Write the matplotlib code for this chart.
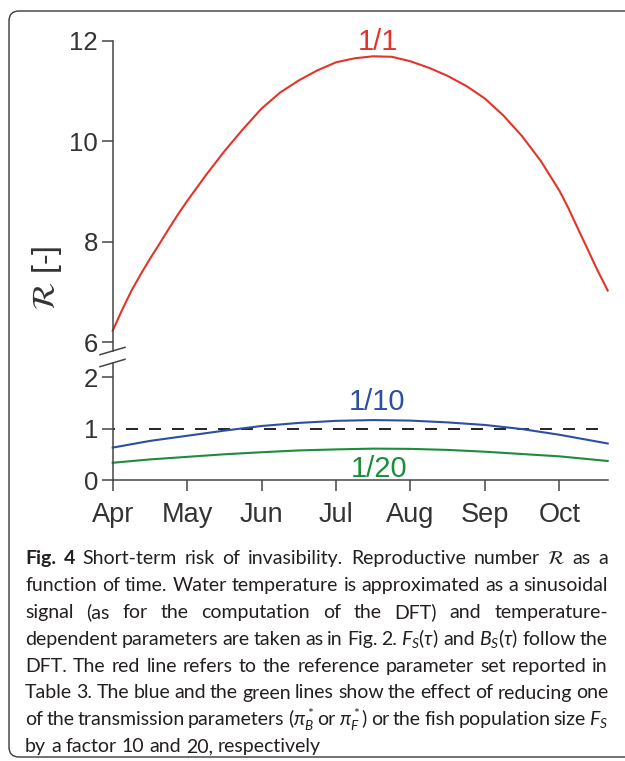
import matplotlib
matplotlib.use("Agg")
import matplotlib.pyplot as plt
from matplotlib.patches import FancyBboxPatch
from matplotlib.lines import Line2D

# time axis in months counted from 1 April
months = ["Apr", "May", "Jun", "Jul", "Aug", "Sep", "Oct"]

t_red = [0, 0.125, 0.25, 0.375, 0.5, 0.625, 0.75, 0.875, 1.0, 1.25, 1.5,
         1.75, 2.0, 2.25, 2.5, 2.75, 3.0, 3.25, 3.5, 3.75, 4.0, 4.25, 4.5,
         4.75, 5.0, 5.25, 5.5, 5.75, 6.0, 6.125, 6.25, 6.375, 6.5, 6.65]
r_red = [6.23, 6.64, 7.02, 7.35, 7.66, 7.95, 8.25, 8.54, 8.81, 9.32, 9.80,
         10.24, 10.65, 10.97, 11.21, 11.41, 11.57, 11.65, 11.69, 11.68, 11.59,
         11.46, 11.30, 11.10, 10.85, 10.51, 10.10, 9.61, 9.02, 8.66, 8.26,
         7.87, 7.47, 7.03]

t_low = [0, 0.5, 1.0, 1.5, 2.0, 2.5, 3.0, 3.5, 4.0, 4.5, 5.0, 5.5, 6.0, 6.65]
r_blue = [0.63, 0.76, 0.86, 0.96, 1.05, 1.11, 1.15, 1.165, 1.155, 1.12, 1.07,
          0.99, 0.88, 0.71]
r_green = [0.335, 0.40, 0.45, 0.50, 0.54, 0.575, 0.595, 0.61, 0.605, 0.585,
           0.55, 0.505, 0.46, 0.37]
threshold = 1.0

red = "#e4342a"
blue = "#2c4ea3"
green = "#1b8d3b"
axcol = "#454545"

caption = [
    r"Fig. 4 Short-term risk of invasibility. Reproductive number $\mathcal{R}$ as a",
    r"function of time. Water temperature is approximated as a sinusoidal",
    r"signal (as for the computation of the DFT) and temperature-",
    r"dependent parameters are taken as in Fig. 2. $F_S(\tau)$ and $B_S(\tau)$ follow the",
    r"DFT. The red line refers to the reference parameter set reported in",
    r"Table 3. The blue and the green lines show the effect of reducing one",
    r"of the transmission parameters ($\pi^*_B$ or $\pi^*_F$) or the fish population size $F_S$",
    r"by a factor 10 and 20, respectively",
]

plt.rcParams["font.family"] = ["Liberation Sans"]
plt.rcParams["mathtext.fontset"] = "custom"
plt.rcParams["mathtext.rm"] = "Lato"
plt.rcParams["mathtext.it"] = "Lato:italic"
plt.rcParams["mathtext.bf"] = "Lato:bold"
plt.rcParams["mathtext.sf"] = "Lato"
plt.rcParams["mathtext.fallback"] = "stixsans"

W, H = 625, 761
fig = plt.figure(figsize=(W / 100, H / 100), dpi=100)

def fx(px):
    return px / W

def fy(py):
    return 1 - py / H

# outer frame
frame = FancyBboxPatch((0.09, 0.04), 7.0, 7.46,
                       boxstyle="round,pad=0,rounding_size=0.1",
                       transform=fig.dpi_scale_trans, fill=False,
                       ec="#3a3a3a", lw=1.0)
fig.patches.append(frame)

left, right = 112.7, 607.7
ax_top = fig.add_axes([fx(left), fy(351), fx(right - left), (351 - 40.7) / H])
ax_bot = fig.add_axes([fx(left), fy(480), fx(right - left), (480 - 363) / H])

for ax in (ax_top, ax_bot):
    ax.set_xlim(0, 6.65)
    for s in ("top", "right"):
        ax.spines[s].set_visible(False)
    for s in ("left", "bottom"):
        ax.spines[s].set_color(axcol)
        ax.spines[s].set_linewidth(1.1)
    ax.tick_params(direction="out", length=8, width=1.1, color=axcol,
                   labelcolor="#333333", labelsize=18.5, pad=2.5)
    ax.patch.set_visible(False)

ax_top.spines["bottom"].set_visible(False)
ax_top.set_xticks([])
ax_top.set_ylim(5.827, 12)
ax_top.set_yticks([6, 8, 10, 12])
ax_top.plot(t_red, r_red, color=red, lw=1.5, clip_on=False)
ax_top.text(3.56, 11.82, "1/1", color=red, fontsize=21, ha="center",
            va="baseline", clip_on=False)

ax_bot.set_ylim(0, 2.275)
ax_bot.set_yticks([0, 1, 2])
ax_bot.set_xticks(range(len(months)))
ax_bot.set_xticklabels(months)
ax_bot.tick_params(axis="x", pad=8, labelsize=19.5)
ax_bot.axhline(threshold, color="black", lw=1.2, ls=(6, (7.2, 6.6)))
ax_bot.plot(t_low, r_blue, color=blue, lw=1.5, clip_on=False)
ax_bot.plot(t_low, r_green, color=green, lw=1.5, clip_on=False)
ax_bot.text(3.55, 1.355, "1/10", color=blue, fontsize=21, ha="center",
            va="baseline")
ax_bot.text(3.58, 0.065, "1/20", color=green, fontsize=21, ha="center",
            va="baseline")

# axis break marks
for yb in (351, 363):
    fig.add_artist(Line2D([fx(100), fx(125)], [fy(yb + 3.7), fy(yb - 3.7)],
                          color=axcol, lw=1.1))

fig.text(fx(47), fy(278), r"$\mathcal{R}$ [-]", rotation=90, fontsize=23,
         ha="center", va="center", color="#333333", math_fontfamily="stix")

# justified caption
fig.canvas.draw()
renderer = fig.canvas.get_renderer()
cap_size = 14.0
x0, x1 = 25, 608
probe1 = fig.text(0, 0, "x x", fontsize=cap_size, family="Lato")
probe2 = fig.text(0, 0, "xx", fontsize=cap_size, family="Lato")
space = (probe1.get_window_extent(renderer).width
         - probe2.get_window_extent(renderer).width)
probe1.remove()
probe2.remove()

for i, line in enumerate(caption):
    base = 564 + 26.9 * i
    words = line.split(" ")
    objs = []
    for j, w in enumerate(words):
        bold = i == 0 and j < 2
        mf = "stix" if "mathcal" in w else "custom"
        t = fig.text(0, fy(base), w, fontsize=cap_size, family="Lato",
                     fontweight="bold" if bold else "normal", color="#231f20",
                     ha="left", va="baseline", math_fontfamily=mf)
        objs.append(t)
    widths = [t.get_window_extent(renderer).width for t in objs]
    if i == len(caption) - 1:
        gap = space
    else:
        gap = (x1 - x0 - sum(widths)) / (len(objs) - 1)
    x = x0
    for t, w in zip(objs, widths):
        t.set_x(fx(x))
        x += w + gap

fig.savefig("out.png", dpi=100)
